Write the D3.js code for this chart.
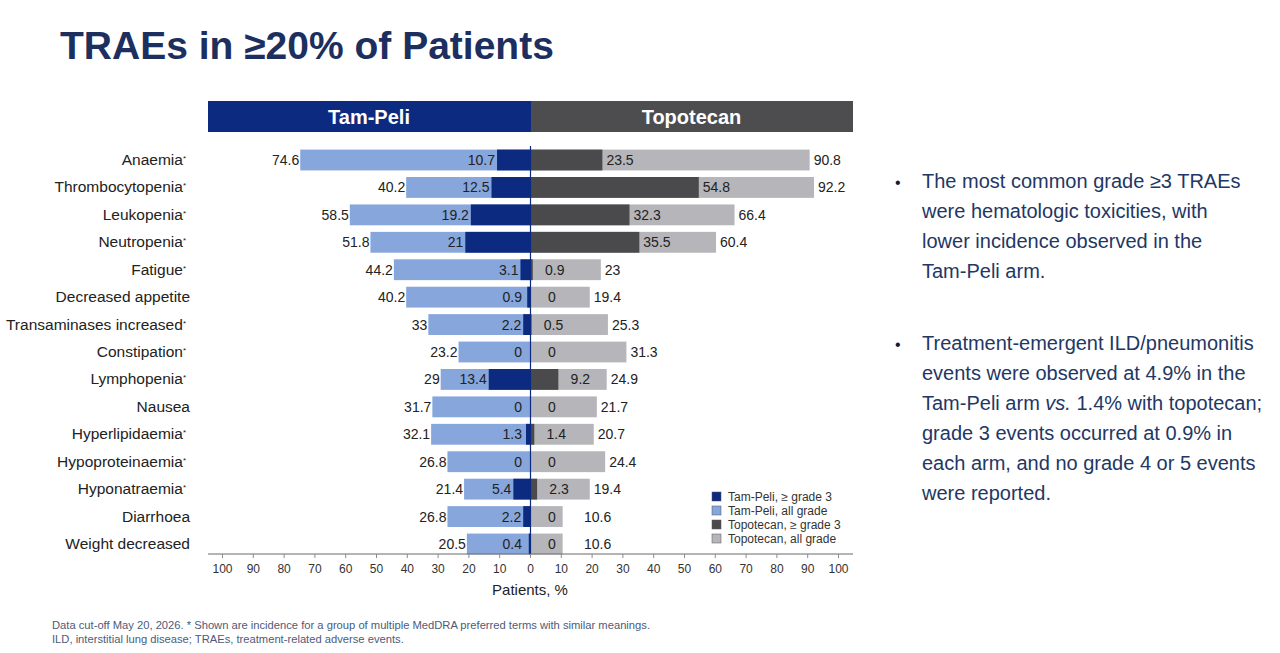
<!DOCTYPE html>
<html>
<head>
<meta charset="utf-8">
<script src="https://cdn.jsdelivr.net/npm/d3@7/dist/d3.min.js"></script>
<style>
  body { margin: 0; background: #ffffff; }
  svg text { font-family: "Liberation Sans", Arial, sans-serif; }
</style>
</head>
<body>
<div id="chart_div"></div>
<script>
var categories = ['Anaemia', 'Thrombocytopenia', 'Leukopenia', 'Neutropenia', 'Fatigue',
    'Decreased appetite', 'Transaminases increased', 'Constipation', 'Lymphopenia', 'Nausea',
    'Hyperlipidaemia', 'Hypoproteinaemia', 'Hyponatraemia', 'Diarrhoea', 'Weight decreased'];
// 1 = grouped MedDRA terms (marked with asterisk)
var grouped = [1, 1, 1, 1, 1, 0, 1, 1, 1, 0, 1, 1, 1, 0, 0];

var tam_all   = [74.6, 40.2, 58.5, 51.8, 44.2, 40.2, 33, 23.2, 29, 31.7, 32.1, 26.8, 21.4, 26.8, 20.5];
var tam_g3    = [10.7, 12.5, 19.2, 21, 3.1, 0.9, 2.2, 0, 13.4, 0, 1.3, 0, 5.4, 2.2, 0.4];
var topo_all  = [90.8, 92.2, 66.4, 60.4, 23, 19.4, 25.3, 31.3, 24.9, 21.7, 20.7, 24.4, 19.4, 10.6, 10.6];
var topo_g3   = [23.5, 54.8, 32.3, 35.5, 0.9, 0, 0.5, 0, 9.2, 0, 1.4, 0, 2.3, 0, 0];

var tick_values = [0, 10, 20, 30, 40, 50, 60, 70, 80, 90, 100];
var arm_names = ['Tam-Peli', 'Topotecan'];
var legend_labels = ['Tam-Peli, \u2265 grade 3', 'Tam-Peli, all grade', 'Topotecan, \u2265 grade 3', 'Topotecan, all grade'];

var bullets = [
    ['The most common grade \u22653 TRAEs', 'were hematologic toxicities, with', 'lower incidence observed in the', 'Tam-Peli arm.'],
    ['Treatment-emergent ILD/pneumonitis', 'events were observed at 4.9% in the', 'Tam-Peli arm |vs.| 1.4% with topotecan;',
     'grade 3 events occurred at 0.9% in', 'each arm, and no grade 4 or 5 events', 'were reported.']
];
var footnotes = [
    'Data cut-off May 20, 2026. * Shown are incidence for a group of multiple  MedDRA  preferred terms with similar meanings.',
    'ILD,  interstitial lung disease; TRAEs, treatment-related adverse events.'
];

var colors = {
    tam_g3: '#0c2a80',
    tam_all: '#87a6dc',
    topo_g3: '#4a4a4d',
    topo_all: '#b6b6ba',
    header_gray: '#4d4d50',
    title: '#1c2f5f',
    text: '#222222'
};
var legend_colors = [colors.tam_g3, colors.tam_all, colors.topo_g3, colors.topo_all];

var width = 1280, height = 653;
var zero_x = 530;

var svg = d3.select('#chart_div')
    .append('svg')
    .attr('width', width)
    .attr('height', height)
    .attr('viewBox', `0 0 ${width} ${height}`);

// title
svg.append('text')
    .attr('x', 60)
    .attr('y', 59)
    .style('font-size', '39px')
    .style('font-weight', 700)
    .style('fill', colors.title)
    .text('TRAEs in \u226520% of Patients');

var x_left = d3.scaleLinear().domain([0, 100]).range([zero_x, 222]);
var x_right = d3.scaleLinear().domain([0, 100]).range([zero_x, 838]);
var y = d3.scaleBand().domain(categories).range([146.3, 557.7]).paddingInner(0.24).paddingOuter(0.12);

var rows = categories.map(function(c, i) {
    return { name: c, grouped: grouped[i], tam_all: tam_all[i], tam_g3: tam_g3[i], topo_all: topo_all[i], topo_g3: topo_g3[i] };
});

// header bars
var header = svg.append('g').attr('id', 'header');
header.append('rect')
    .attr('x', 208).attr('y', 101).attr('width', zero_x + 1 - 208).attr('height', 31)
    .style('fill', colors.tam_g3);
header.append('rect')
    .attr('x', zero_x + 1).attr('y', 101).attr('width', 853 - zero_x - 1).attr('height', 31)
    .style('fill', colors.header_gray);
header.selectAll('text')
    .data(arm_names)
    .enter()
    .append('text')
    .attr('x', function(d, i) { return i === 0 ? (208 + zero_x) / 2 : (zero_x + 853) / 2; })
    .attr('y', 124)
    .attr('text-anchor', 'middle')
    .style('font-size', '20px')
    .style('font-weight', 700)
    .style('fill', '#ffffff')
    .text(function(d) { return d; });

var bars = svg.append('g').attr('id', 'bars');

// all-grade bars
bars.selectAll('.tam_all').data(rows).enter().append('rect')
    .attr('class', 'tam_all')
    .attr('x', function(d) { return x_left(d.tam_all); })
    .attr('y', function(d) { return y(d.name); })
    .attr('width', function(d) { return zero_x - x_left(d.tam_all); })
    .attr('height', y.bandwidth())
    .style('fill', colors.tam_all);

bars.selectAll('.topo_all').data(rows).enter().append('rect')
    .attr('class', 'topo_all')
    .attr('x', zero_x)
    .attr('y', function(d) { return y(d.name); })
    .attr('width', function(d) { return x_right(d.topo_all) - zero_x; })
    .attr('height', y.bandwidth())
    .style('fill', colors.topo_all);

// grade >= 3 bars
bars.selectAll('.tam_g3').data(rows).enter().append('rect')
    .attr('class', 'tam_g3')
    .attr('x', function(d) { return x_left(d.tam_g3); })
    .attr('y', function(d) { return y(d.name); })
    .attr('width', function(d) { return zero_x - x_left(d.tam_g3); })
    .attr('height', y.bandwidth())
    .style('fill', colors.tam_g3);

bars.selectAll('.topo_g3').data(rows).enter().append('rect')
    .attr('class', 'topo_g3')
    .attr('x', zero_x)
    .attr('y', function(d) { return y(d.name); })
    .attr('width', function(d) { return x_right(d.topo_g3) - zero_x; })
    .attr('height', y.bandwidth())
    .style('fill', colors.topo_g3);

// zero line
svg.append('line')
    .attr('x1', zero_x + 0.5).attr('x2', zero_x + 0.5)
    .attr('y1', 146).attr('y2', 554)
    .style('stroke', colors.tam_g3)
    .style('stroke-width', 1.2);

// value labels
var labels = svg.append('g').attr('id', 'value_labels')
    .style('font-size', '14px')
    .style('fill', colors.text);

function mid_y(d) { return y(d.name) + y.bandwidth() / 2 + 5; }

labels.selectAll('.lab_tam_all').data(rows).enter().append('text')
    .attr('x', function(d) { return x_left(d.tam_all) - 1; })
    .attr('y', mid_y)
    .attr('text-anchor', 'end')
    .text(function(d) { return d.tam_all; });

labels.selectAll('.lab_tam_g3').data(rows).enter().append('text')
    .attr('x', function(d) { return Math.min(x_left(d.tam_g3) - 2, zero_x - 8); })
    .attr('y', mid_y)
    .attr('text-anchor', 'end')
    .text(function(d) { return d.tam_g3; });

labels.selectAll('.lab_topo_g3').data(rows).enter().append('text')
    .attr('x', function(d) { return d.topo_g3 < 10 ? x_right(d.topo_g3) + 22 : x_right(d.topo_g3) + 4; })
    .attr('y', mid_y)
    .attr('text-anchor', function(d) { return d.topo_g3 < 10 ? 'middle' : 'start'; })
    .text(function(d) { return d.topo_g3; });

labels.selectAll('.lab_topo_all').data(rows).enter().append('text')
    .attr('x', function(d) { return Math.max(x_right(d.topo_all) + 4, zero_x + 54); })
    .attr('y', mid_y)
    .attr('text-anchor', 'start')
    .text(function(d) { return d.topo_all; });

// category labels
var cat = svg.append('g').attr('id', 'categories')
    .selectAll('text').data(rows).enter().append('text')
    .attr('x', function(d) { return d.grouped ? 186 : 190; })
    .attr('y', mid_y)
    .attr('text-anchor', 'end')
    .style('font-size', '15.5px')
    .style('fill', colors.text)
    .text(function(d) { return d.name; });
cat.filter(function(d) { return d.grouped; })
    .append('tspan')
    .attr('dy', -4)
    .style('font-size', '8px')
    .text('*');

// x axes
var axis_y = 554;
var axis_g = svg.append('g').attr('id', 'axis');
axis_g.append('line')
    .attr('x1', 208).attr('x2', 853)
    .attr('y1', axis_y).attr('y2', axis_y)
    .style('stroke', '#6b6b6b').style('stroke-width', 1);

var left_axis = axis_g.append('g')
    .attr('transform', `translate(0, ${axis_y})`)
    .call(d3.axisBottom(x_left).tickValues(tick_values.slice(1)).tickSize(4).tickPadding(6));
var right_axis = axis_g.append('g')
    .attr('transform', `translate(0, ${axis_y})`)
    .call(d3.axisBottom(x_right).tickValues(tick_values).tickSize(4).tickPadding(6));
axis_g.selectAll('.domain').remove();
axis_g.selectAll('.tick line').style('stroke', '#8a8a8a');
axis_g.selectAll('.tick text')
    .style('font-family', '"Liberation Sans", Arial, sans-serif')
    .style('font-size', '12px')
    .style('fill', '#333333');

axis_g.append('text')
    .attr('x', zero_x)
    .attr('y', 595)
    .attr('text-anchor', 'middle')
    .style('font-size', '15px')
    .style('fill', colors.text)
    .text('Patients, %');

// legend
var legend = svg.append('g').attr('id', 'legend').attr('transform', 'translate(712, 492)');
var legend_items = legend.selectAll('g').data(legend_labels).enter().append('g')
    .attr('transform', function(d, i) { return `translate(0, ${i * 14})`; });
legend_items.append('rect')
    .attr('width', 9).attr('height', 9)
    .style('fill', function(d, i) { return legend_colors[i]; })
    .style('stroke', '#555555').style('stroke-width', 0.5);
legend_items.append('text')
    .attr('x', 16).attr('y', 9)
    .style('font-size', '12px')
    .style('fill', '#333333')
    .text(function(d) { return d; });

// bullet text
var bullet_g = svg.append('g').attr('id', 'bullets')
    .style('font-size', '20px')
    .style('fill', '#223765');
var bullet_tops = [181, 343];
bullets.forEach(function(lines, b) {
    bullet_g.append('text')
        .attr('x', 895).attr('y', bullet_tops[b] + 7)
        .style('font-size', '16px')
        .style('fill', '#1a1a2e')
        .text('\u2022');
    lines.forEach(function(line, i) {
        var t = bullet_g.append('text')
            .attr('x', 922)
            .attr('y', bullet_tops[b] + 7 + i * 30);
        line.split('|').forEach(function(part, k) {
            t.append('tspan')
                .style('font-style', k % 2 === 1 ? 'italic' : 'normal')
                .text(part);
        });
    });
});

// footnotes
svg.append('g').attr('id', 'footnotes')
    .selectAll('text').data(footnotes).enter().append('text')
    .attr('x', 52)
    .attr('y', function(d, i) { return 629 + i * 14; })
    .style('font-size', '11.2px')
    .style('fill', '#4d5b7a')
    .text(function(d) { return d; });
</script>
</body>
</html>
